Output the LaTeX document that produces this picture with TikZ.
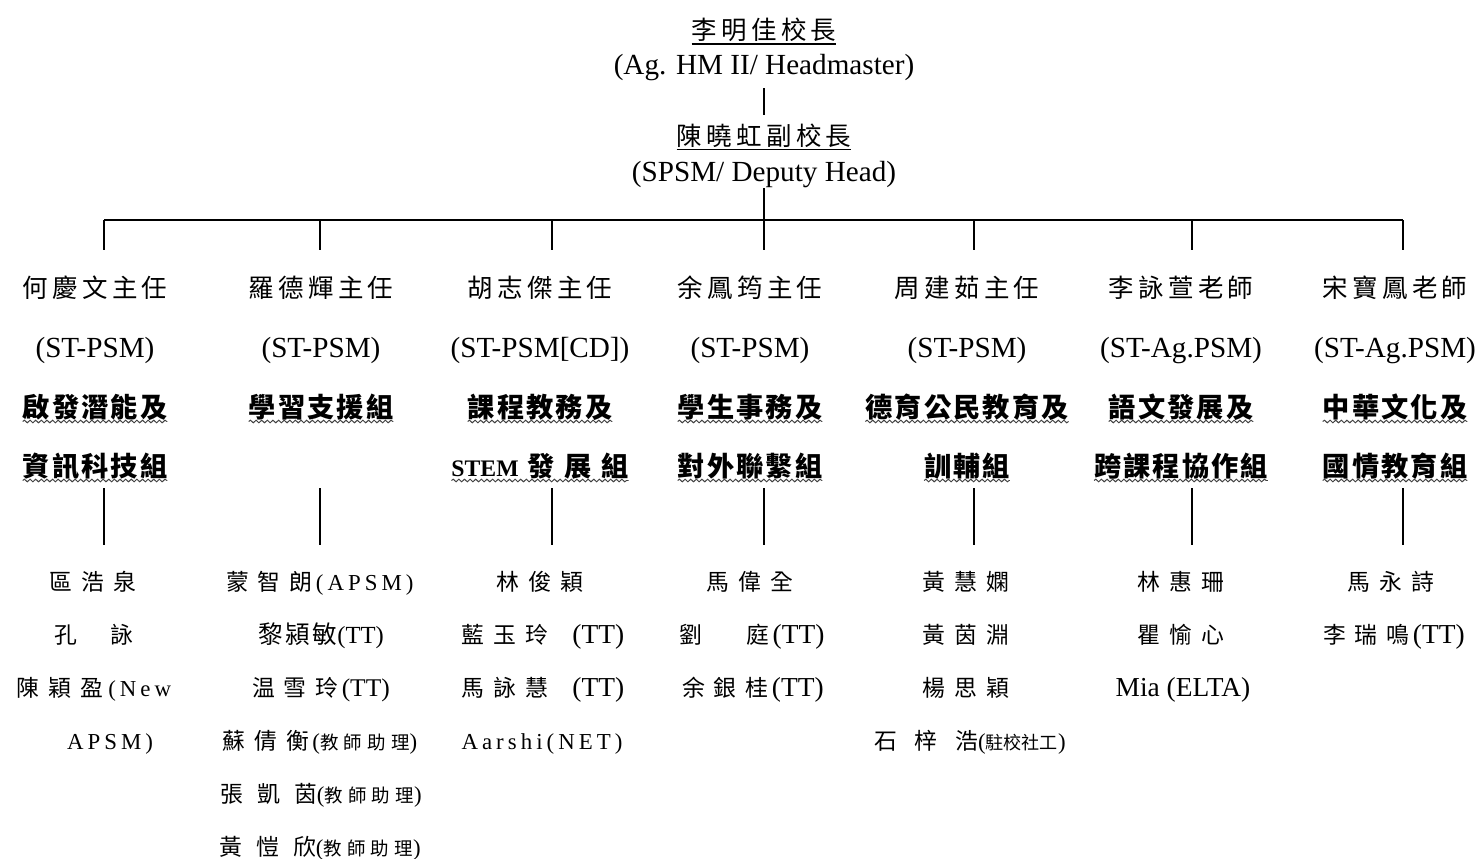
\documentclass[tikz,border=0pt]{standalone}
\usepackage{fontspec}
\setmainfont{Liberation Serif}
\newfontfamily\cjk{Noto Sans CJK TC}
\usetikzlibrary{decorations.pathmorphing,calc}
\makeatletter
\newcommand\spaceout[2]{\begingroup\def\so@gap{\hspace{#1}}\so@first#2\so@stop\endgroup}
\def\so@stop{\so@stop}
\def\so@first#1{#1\so@next}
\def\so@next#1{\ifx\so@stop#1\else\so@gap#1\expandafter\so@next\fi}
\makeatother
\newcommand\fs[1]{\fontsize{#1}{#1}\selectfont}
\newcommand\zn[1]{\spaceout{5pt}{#1}}
\newcommand\sen[1]{{\rmfamily\fs{13}\spaceout{2.3pt}{#1}}}
\newcommand\TTt[1]{{\rmfamily\fs{#1}(TT)}}
\newcommand\aide{{\rmfamily\fs{13}(}{\fs{10.5}\spaceout{3pt}{教師助理}}{\rmfamily\fs{13})}}
\newcommand\ttl[1]{\spaceout{2.5pt}{#1}}
\newcommand\grp[1]{\spaceout{1.2pt}{#1}}
\begin{document}
\begin{tikzpicture}[x=0.02cm,y=-0.02cm,
  txt/.style={anchor=base,inner sep=0pt,outer sep=0pt},
  zhT/.style={txt,font=\cjk\fs{14.5}},
  enT/.style={txt,font=\rmfamily\fs{16.6}},
  grpT/.style={txt,font=\cjk\bfseries\fs{15.5}},
  stf/.style={txt,font=\cjk\fs{13}},
  link/.style={line width=1.1pt},
  uline/.style={line width=0.9pt},
  wave/.style={decorate,decoration={snake,amplitude=0.75pt,segment length=3.2pt},line width=0.55pt,black!75}]
\useasboundingbox (0,0) rectangle (1478,859);

% heads
\node[zhT] (hm) at (764,39) {\ttl{李明佳校長}};
\node[enT] (hmE) at (764,74) {(Ag. HM II/ Headmaster)};
\node[zhT] (dh) at (764,145) {\ttl{陳曉虹副校長}};
\node[enT] (dhE) at (764,181) {(SPSM/ Deputy Head)};
\draw[uline] ($(hm.base west)+(0,5)$) -- ($(hm.base east)+(0,5)$);
\draw[uline] ($(dh.base west)+(0,4.5)$) -- ($(dh.base east)+(0,4.5)$);
\draw[link] ($(hmE.base)+(0,14)$) -- ($(dh.base)+(0,-30)$);
\coordinate (bus) at (764,220);
\draw[link] ($(dhE.base)+(0,7)$) -- (bus);
\coordinate (b1) at (104,220);
\coordinate (b2) at (320,220);
\coordinate (b3) at (552,220);
\coordinate (b4) at (764,220);
\coordinate (b5) at (974,220);
\coordinate (b6) at (1192,220);
\coordinate (b7) at (1403,220);
\draw[link] (b1) -- (b7);
\foreach \i in {1,...,7} {\draw[link] (b\i) -- ++(0,30);}
\coordinate (d1) at (104,488);
\coordinate (d2) at (320,488);
\coordinate (d3) at (552,488);
\coordinate (d4) at (764,488);
\coordinate (d5) at (974,488);
\coordinate (d6) at (1192,488);
\coordinate (d7) at (1403,488);
\foreach \i in {1,...,7} {\draw[link] (d\i) -- ++(0,57);}

% column titles
\node[zhT] (n1) at (95,297) {\ttl{何慶文主任}};
\node[zhT] (n2) at (321,297) {\ttl{羅德輝主任}};
\node[zhT] (n3) at (540,297) {\ttl{胡志傑主任}};
\node[zhT] (n4) at (750,297) {\ttl{余鳳筠主任}};
\node[zhT] (n5) at (967,297) {\ttl{周建茹主任}};
\node[zhT] (n6) at (1181,297) {\ttl{李詠萱老師}};
\node[zhT] (n7) at (1395,297) {\ttl{宋寶鳳老師}};

\node[enT] (p1) at (95,357) {(ST-PSM)};
\node[enT] (p2) at (321,357) {(ST-PSM)};
\node[enT] (p3) at (540,357) {(ST-PSM[CD])};
\node[enT] (p4) at (750,357) {(ST-PSM)};
\node[enT] (p5) at (967,357) {(ST-PSM)};
\node[enT] (p6) at (1181,357) {(ST-Ag.PSM)};
\node[enT] (p7) at (1395,357) {(ST-Ag.PSM)};

\node[grpT] (g1a) at (95,417) {\grp{啟發潛能及}};
\node[grpT] (g1b) at (95,476) {\grp{資訊科技組}};
\node[grpT] (g2a) at (321,417) {\grp{學習支援組}};
\node[grpT] (g3a) at (540,417) {\grp{課程教務及}};
\node[grpT] (g3b) at (540,476) {{\rmfamily\bfseries\fs{13.5}STEM}\hspace{5pt}\spaceout{5.5pt}{發展組}};
\node[grpT] (g4a) at (750,417) {\grp{學生事務及}};
\node[grpT] (g4b) at (750,476) {\grp{對外聯繫組}};
\node[grpT] (g5a) at (967,417) {\grp{德育公民教育及}};
\node[grpT] (g5b) at (967,476) {\grp{訓輔組}};
\node[grpT] (g6a) at (1181,417) {\grp{語文發展及}};
\node[grpT] (g6b) at (1181,476) {\grp{跨課程協作組}};
\node[grpT] (g7a) at (1395,417) {\grp{中華文化及}};
\node[grpT] (g7b) at (1395,476) {\grp{國情教育組}};
\foreach \n in {g1a,g1b,g2a,g3a,g3b,g4a,g4b,g5a,g5b,g6a,g6b,g7a,g7b}
  {\draw[wave] ($(\n.base west)+(0,4.5)$) -- ($(\n.base east)+(0,4.5)$);}

% staff col 1
\node[stf] (s11) at (93,590) {\zn{區浩泉}};
\node[stf] (s12) at (94,643) {孔\hspace{19pt}詠};
\node[stf] (s13) at (94,696) {\zn{陳穎盈}\hspace{3pt}\sen{(New}};
\node[stf] (s14) at (110,749) {\sen{APSM)}};
% col 2
\node[stf] (s21) at (320,590) {\zn{蒙智朗}\hspace{2pt}\sen{(APSM)}};
\node[stf] (s22) at (321,643) {{\fs{14}\spaceout{1.5pt}{黎潁敏}}\TTt{14}};
\node[stf] (s23) at (321,696) {\zn{温雪玲}\hspace{2pt}\TTt{14.5}};
\node[stf] (s24) at (320,749) {\zn{蘇倩衡}\hspace{2pt}\aide};
\node[stf] (s25) at (321,802) {\spaceout{8pt}{張凱茵}\aide};
\node[stf] (s26) at (320,855) {\spaceout{8pt}{黃愷欣}\aide};
% col 3
\node[stf] (s31) at (540,590) {\zn{林俊穎}};
\node[stf] (s32) at (543,643) {\zn{藍玉玲}\hspace{14pt}\TTt{15.6}};
\node[stf] (s33) at (543,696) {\zn{馬詠慧}\hspace{14pt}\TTt{15.6}};
\node[stf] (s34) at (542,749) {\sen{Aarshi(NET)}};
% col 4
\node[stf] (s41) at (750,590) {\zn{馬偉全}};
\node[stf] (s42) at (752,643) {劉\hspace{25pt}庭\hspace{2pt}\TTt{15.6}};
\node[stf] (s43) at (753,696) {\zn{余銀桂}\hspace{2pt}\TTt{15.6}};
% col 5
\node[stf] (s51) at (966,590) {\zn{黃慧嫻}};
\node[stf] (s52) at (966,643) {\zn{黃茵淵}};
\node[stf] (s53) at (966,696) {\zn{楊思穎}};
\node[stf] (s54) at (970,749) {\spaceout{10pt}{石梓浩}{\rmfamily\fs{13}(}{\fs{10.3}駐校社工}{\rmfamily\fs{13})}};
% col 6
\node[stf] (s61) at (1181,590) {\zn{林惠珊}};
\node[stf] (s62) at (1181,643) {\zn{瞿愉心}};
\node[stf] (s63) at (1183,696) {{\rmfamily\fs{15.6}Mia (ELTA)}};
% col 7
\node[stf] (s71) at (1391,590) {\zn{馬永詩}};
\node[stf] (s72) at (1394,643) {\zn{李瑞鳴}\hspace{2pt}\TTt{15.6}};
\end{tikzpicture}
\end{document}
